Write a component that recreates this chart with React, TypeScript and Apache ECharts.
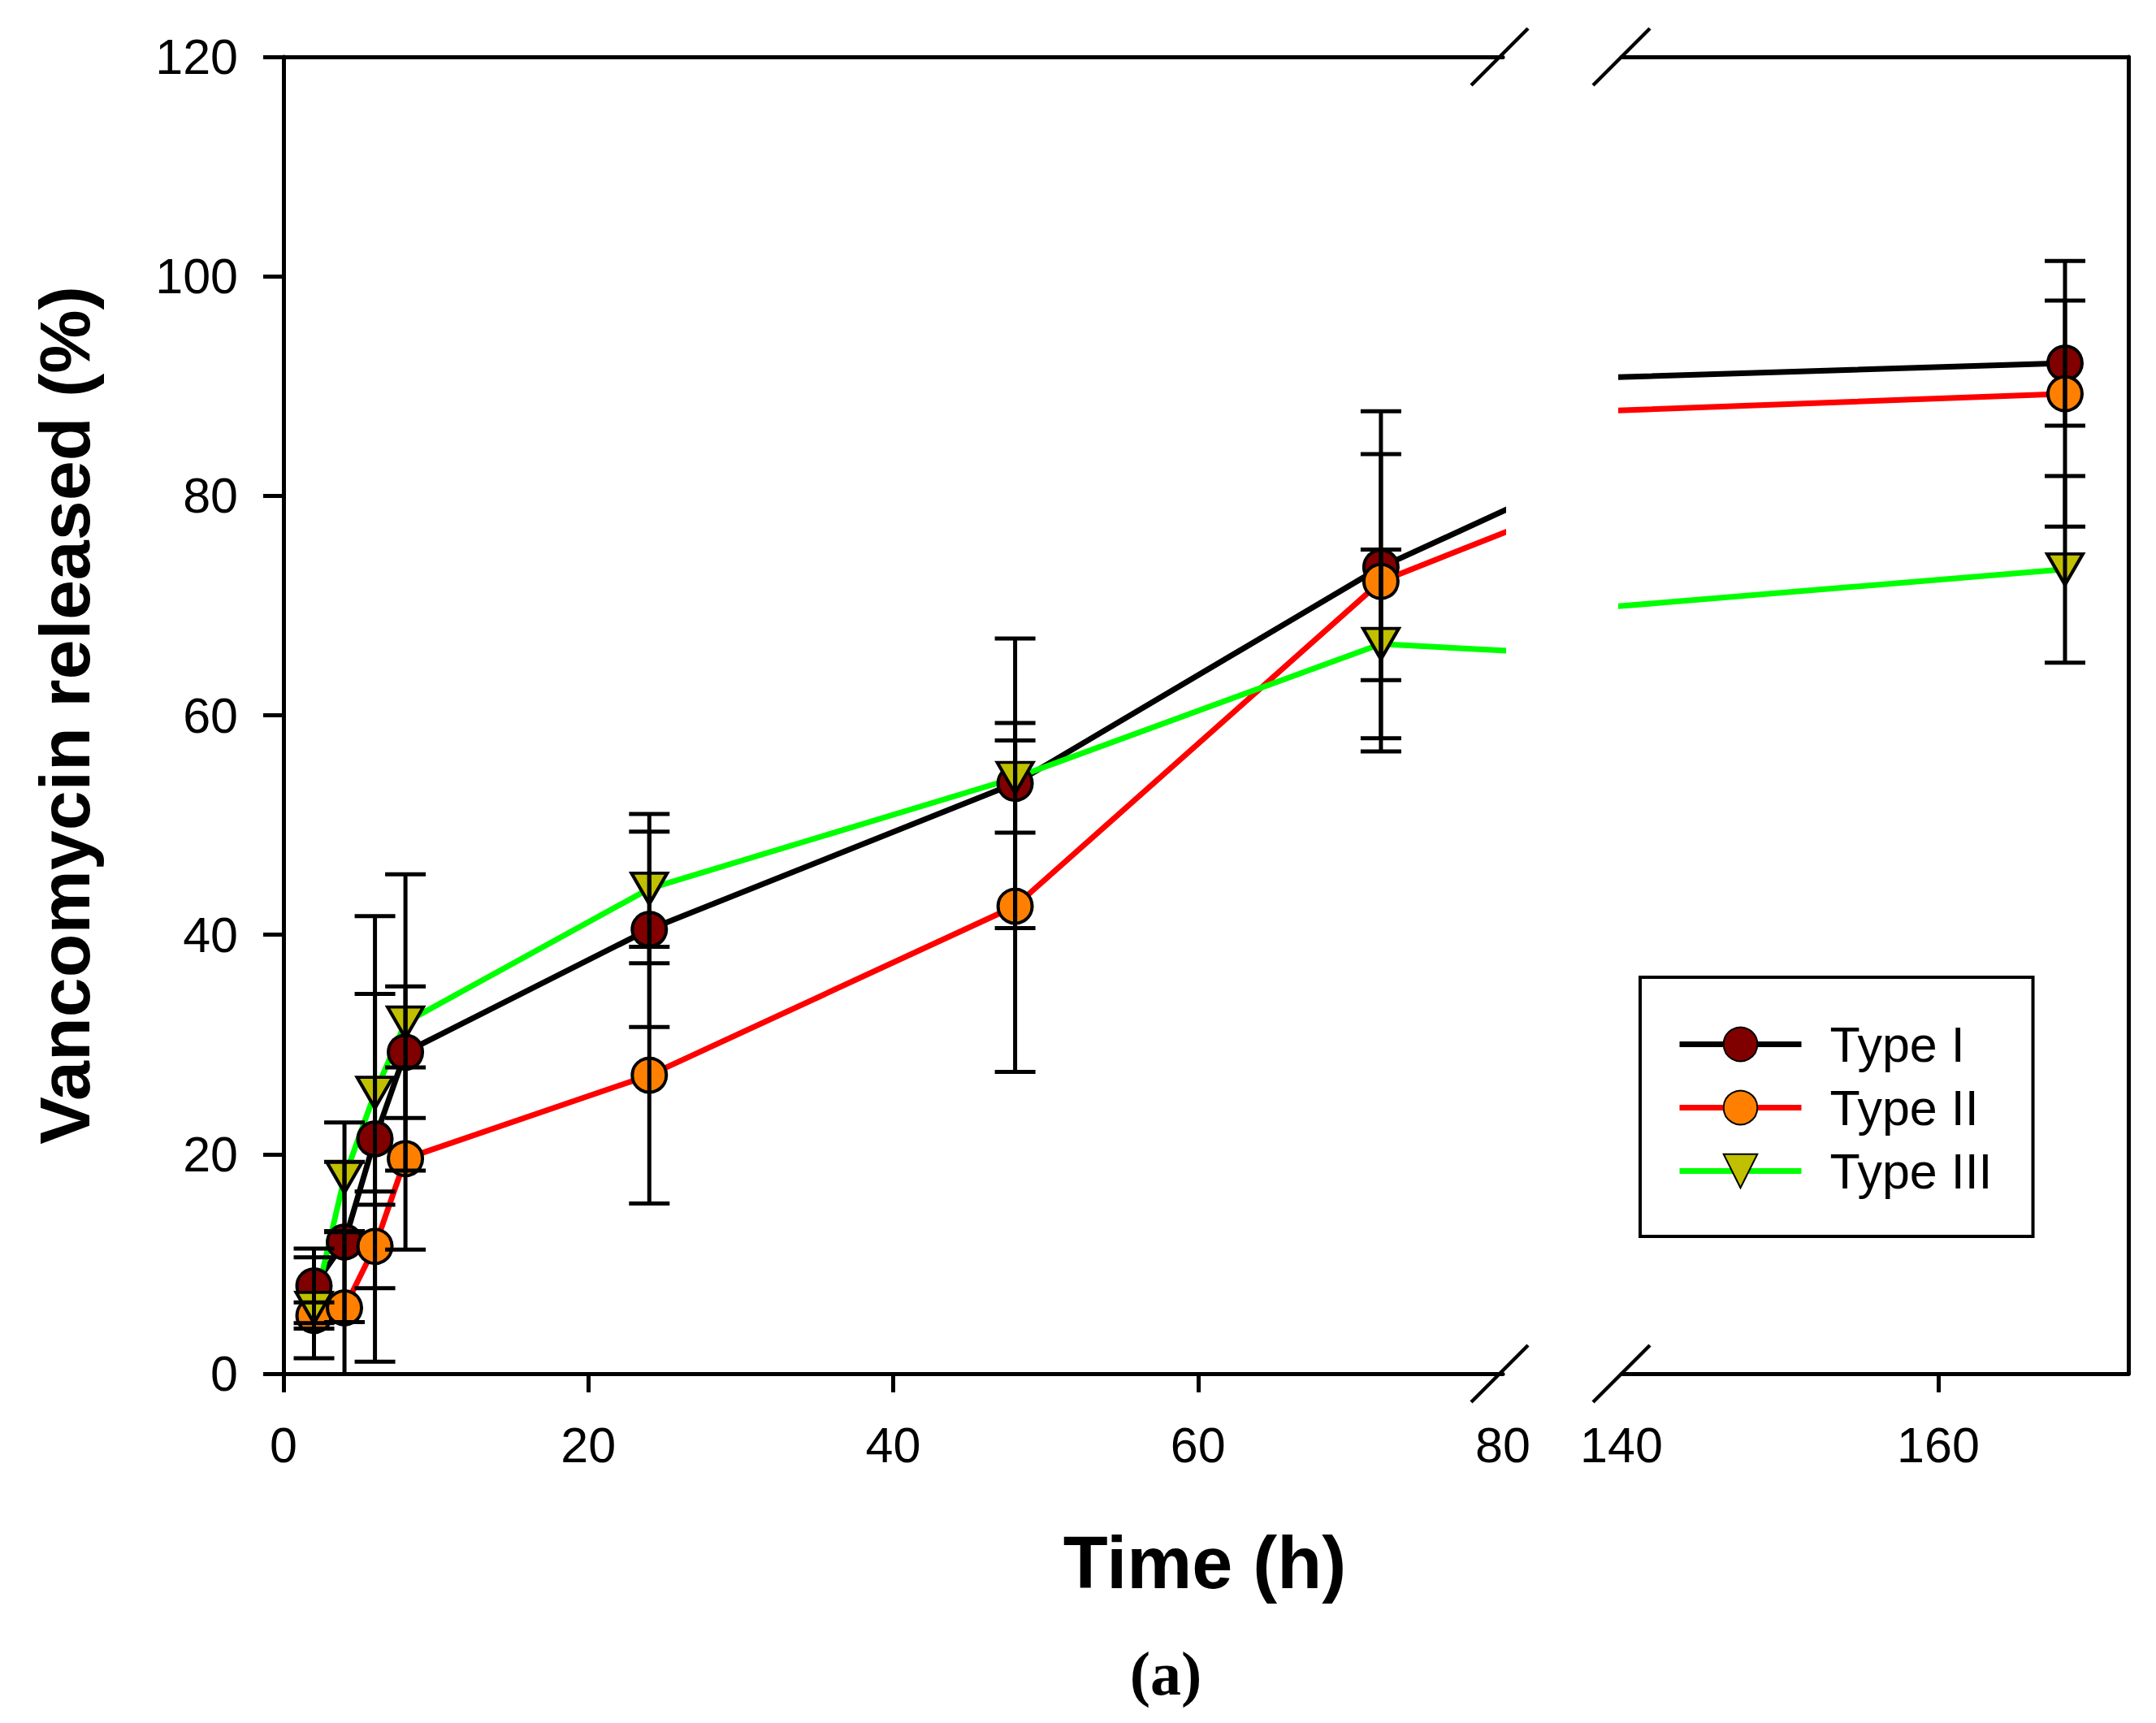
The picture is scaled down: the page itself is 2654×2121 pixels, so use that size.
import { useEffect, useRef } from "react";
import * as echarts from "echarts";

// release time points (h); 96 h lies inside the axis break, so only the lines show it
const hours = [2, 4, 6, 8, 24, 48, 72, 96, 168];

const typeI = [8.0, 12.0, 21.4, 29.3, 40.5, 53.8, 73.5, 88.8, 92.1];
const typeIErr = [3.4, 7.3, 20.3, 6.0, 8.9, 13.2, 10.3, null, 5.7];

const typeII = [5.3, 6.0, 11.6, 19.6, 27.2, 42.6, 72.2, 85.4, 89.3];
const typeIIErr = [1.2, 7.0, 3.8, 8.3, 11.7, 15.1, 15.5, null, 12.1];

const typeIII = [6.0, 17.9, 25.6, 32.0, 44.2, 54.3, 66.5, 64.7, 73.3];
const typeIIIErr = [4.6, 5.0, 9.0, 13.5, 6.8, 5.0, 8.6, null, 8.5];

const leftXLabels = [0, 20, 40, 60, 80];
const leftXTicks = [0, 20, 40, 60];
const rightXLabels = [140, 160];
const rightXTicks = [160];

const FONT = '"Liberation Sans", Arial, Helvetica, sans-serif';

const seriesDefs = [
  { name: "Type I", values: typeI, errors: typeIErr, line: "#000000", fill: "#800000", symbol: "circle" },
  { name: "Type II", values: typeII, errors: typeIIErr, line: "#ff0000", fill: "#ff8000", symbol: "circle" },
  { name: "Type III", values: typeIII, errors: typeIIIErr, line: "#00ff00", fill: "#c0c000", symbol: "triangle" }
];

function renderErrorBar(_params: any, api: any) {
  const x = api.value(0);
  const lo = api.coord([x, api.value(1)]);
  const hi = api.coord([x, api.value(2)]);
  const half = 25;
  const style = { stroke: "#000", lineWidth: 5 };
  return {
    type: "group",
    children: [
      { type: "line", shape: { x1: lo[0], y1: lo[1], x2: hi[0], y2: hi[1] }, style },
      { type: "line", shape: { x1: lo[0] - half, y1: lo[1], x2: lo[0] + half, y2: lo[1] }, style },
      { type: "line", shape: { x1: hi[0] - half, y1: hi[1], x2: hi[0] + half, y2: hi[1] }, style }
    ]
  };
}

export default function App() {
  const chartRef = useRef<HTMLDivElement | null>(null);

  useEffect(() => {
    const container = chartRef.current;
    if (!container) return;
    const chart = echarts.init(container, null, { renderer: "svg" });

    const axisLine = { show: true, lineStyle: { color: "#000", width: 5 } };
    const label = { color: "#000", fontSize: 61, fontFamily: FONT };

    const panels = [
      { xIdx: 0, yIdx: 0, keep: (t: number) => t <= 80 },
      { xIdx: 2, yIdx: 1, keep: (t: number) => t >= 140 }
    ];

    const series: any[] = [];
    for (const panel of panels) {
      for (const def of seriesDefs) {
        series.push({
          name: def.name,
          type: "line",
          xAxisIndex: panel.xIdx,
          yAxisIndex: panel.yIdx,
          data: hours.map((t, i) => [t, def.values[i]]),
          clip: true,
          symbol: def.symbol,
          symbolSize: def.symbol === "triangle" ? [44, 38] : 42,
          symbolRotate: def.symbol === "triangle" ? 180 : 0,
          lineStyle: { color: def.line, width: 7 },
          itemStyle: { color: def.fill, borderColor: "#000", borderWidth: 4 },
          z: 2
        });
      }
      for (const def of seriesDefs) {
        const bars: number[][] = [];
        hours.forEach((t, i) => {
          const e = def.errors[i];
          if (e == null || !panel.keep(t)) return;
          bars.push([t, def.values[i] - e, def.values[i] + e]);
        });
        series.push({
          type: "custom",
          xAxisIndex: panel.xIdx,
          yAxisIndex: panel.yIdx,
          renderItem: renderErrorBar,
          data: bars,
          clip: true,
          silent: true,
          z: 3
        });
      }
    }

    chart.setOption({
      animation: false,
      backgroundColor: "#fff",
      grid: [
        { left: 349, top: 70, width: 1501, height: 1621 },
        { left: 1996, top: 70, width: 624, height: 1621 }
      ],
      xAxis: [
        {
          type: "value", gridIndex: 0, min: 0, max: 80, position: "bottom",
          axisLine,
          axisTick: { show: true, length: 23, lineStyle: { color: "#000", width: 5 }, customValues: leftXTicks },
          axisLabel: { ...label, margin: 57, customValues: leftXLabels },
          splitLine: { show: false }
        },
        {
          type: "value", gridIndex: 0, min: 0, max: 80, position: "top",
          axisLine, axisTick: { show: false }, axisLabel: { show: false }, splitLine: { show: false }
        },
        {
          type: "value", gridIndex: 1, min: 140, max: 172, position: "bottom",
          axisLine,
          axisTick: { show: true, length: 23, lineStyle: { color: "#000", width: 5 }, customValues: rightXTicks },
          axisLabel: { ...label, margin: 57, customValues: rightXLabels },
          splitLine: { show: false }
        },
        {
          type: "value", gridIndex: 1, min: 140, max: 172, position: "top",
          axisLine, axisTick: { show: false }, axisLabel: { show: false }, splitLine: { show: false }
        }
      ],
      yAxis: [
        {
          type: "value", gridIndex: 0, min: 0, max: 120, interval: 20, position: "left",
          axisLine,
          axisTick: { show: true, length: 25, lineStyle: { color: "#000", width: 5 } },
          axisLabel: { ...label, margin: 56 },
          splitLine: { show: false },
          name: "Vancomycin released (%)",
          nameLocation: "middle",
          nameGap: 226,
          nameRotate: 90,
          nameTextStyle: { color: "#000", fontSize: 88, fontWeight: "bold", fontFamily: FONT }
        },
        {
          type: "value", gridIndex: 1, min: 0, max: 120, position: "right",
          axisLine, axisTick: { show: false }, axisLabel: { show: false }, splitLine: { show: false }
        }
      ],
      legend: {
        data: seriesDefs.map((d) => d.name),
        orient: "vertical",
        left: 2019,
        top: 1203,
        itemWidth: 150,
        itemHeight: 52,
        itemGap: 17,
        padding: [52, 50, 50, 45],
        borderColor: "#000",
        borderWidth: 4,
        backgroundColor: "#fff",
        selectedMode: false,
        lineStyle: { width: 7 },
        textStyle: { color: "#000", fontSize: 61, fontFamily: FONT, padding: [0, 0, 0, 30] }
      },
      series
    });

    // axis-break marks and the free-standing texts
    const xl = chart.convertToPixel({ xAxisIndex: 0 }, 80) as number;
    const xr = chart.convertToPixel({ xAxisIndex: 2 }, 140) as number;
    const yTop = chart.convertToPixel({ yAxisIndex: 0 }, 120) as number;
    const yBot = chart.convertToPixel({ yAxisIndex: 0 }, 0) as number;
    const d = 35;
    const breakStyle = { stroke: "#000", lineWidth: 4.5 };
    const marks: any[] = [];
    for (const x of [xl - 4, xr]) {
      for (const y of [yTop, yBot]) {
        marks.push({ type: "line", shape: { x1: x - d, y1: y + d, x2: x + d, y2: y - d }, style: breakStyle, z: 10 });
      }
    }

    chart.setOption({
      graphic: [
        ...marks,
        {
          type: "text",
          x: 1483,
          y: 1924,
          style: {
            text: "Time (h)",
            fill: "#000",
            font: `bold 90px ${FONT}`,
            textAlign: "center",
            textVerticalAlign: "middle"
          }
        },
        {
          type: "text",
          x: 1435,
          y: 2060,
          style: {
            text: "(a)",
            fill: "#000",
            font: `bold 76px "Liberation Serif", "Times New Roman", serif`,
            textAlign: "center",
            textVerticalAlign: "middle"
          }
        }
      ]
    });

    return () => {
      chart.dispose();
    };
  }, []);

  return (
    <div
      ref={chartRef}
      style={{ position: "absolute", left: 0, top: 0, width: 2654, height: 2121, background: "#fff" }}
    />
  );
}
